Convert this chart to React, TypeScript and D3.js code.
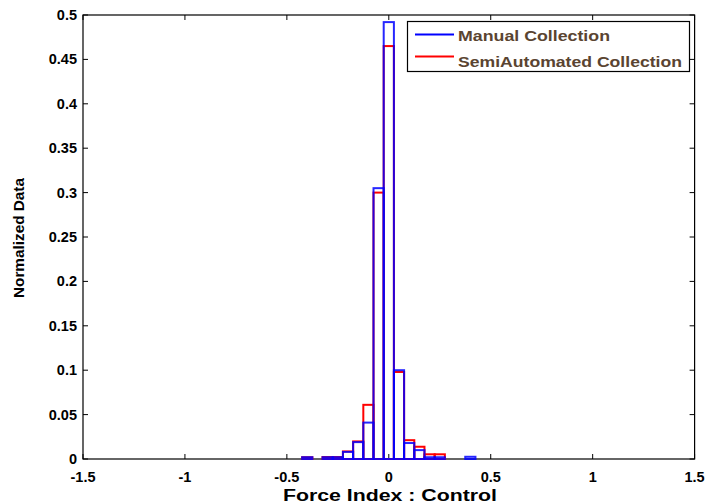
import React from "react";
import * as d3 from "d3";

const binCenters = [
  -1, -0.95, -0.9, -0.85, -0.8, -0.75, -0.7, -0.65, -0.6, -0.55, -0.5, -0.45, -0.4, -0.35, -0.3, -0.25, -0.2, -0.15, -0.1, -0.05,
  0, 0.05, 0.1, 0.15, 0.2, 0.25, 0.3, 0.35, 0.4, 0.45, 0.5, 0.55, 0.6, 0.65, 0.7, 0.75, 0.8, 0.85, 0.9, 0.95, 1,
];
const manualValues = [
  0, 0, 0, 0, 0, 0, 0, 0, 0, 0, 0, 0, 0.002, 0, 0.002, 0.002, 0.008, 0.019, 0.041, 0.305,
  0.492, 0.1, 0.018, 0.01, 0.002, 0.002, 0, 0, 0.0025, 0, 0, 0, 0, 0, 0, 0, 0, 0, 0, 0, 0,
];
const semiValues = [
  0, 0, 0, 0, 0, 0, 0, 0, 0, 0, 0, 0, 0.002, 0, 0.0022, 0.0022, 0.0085, 0.0198, 0.061, 0.3,
  0.465, 0.098, 0.0212, 0.0138, 0.0053, 0.0053, 0, 0, 0, 0, 0, 0, 0, 0, 0, 0, 0, 0, 0, 0, 0,
];
const binWidth = 0.05;
const xTicks = [-1.5, -1, -0.5, 0, 0.5, 1, 1.5];
const yTicks = [0, 0.05, 0.1, 0.15, 0.2, 0.25, 0.3, 0.35, 0.4, 0.45, 0.5];
const seriesNames = ["Manual Collection", "SemiAutomated Collection"];

const W = 709;
const H = 504;
const left = 83;
const right = 694.6;
const top = 15;
const bottom = 459;
const font = "'Liberation Sans', Arial, Helvetica, sans-serif";

export default function App() {
  const x = d3.scaleLinear().domain([-1.5, 1.5]).range([left, right]);
  const y = d3.scaleLinear().domain([0, 0.5]).range([bottom, top]);
  const fmt = (v: number) => String(+v.toFixed(2));

  const bars = (vals: number[], color: string, opacity: number) =>
    binCenters.map((c, i) => {
      const x0 = x(c - binWidth / 2);
      const x1 = x(c + binWidth / 2);
      const yt = y(vals[i]);
      return (
        <rect
          key={i}
          x={x0}
          y={yt}
          width={x1 - x0}
          height={bottom - yt}
          fill="none"
          stroke={color}
          strokeWidth={2}
          strokeOpacity={opacity}
        />
      );
    });

  return (
    <svg width={W} height={H} style={{ position: "absolute", left: 0, top: 0, background: "#fff" }}>
      <rect x={0} y={0} width={W} height={H} fill="#fff" />
      {/* axes box */}
      <rect x={left} y={top} width={right - left} height={bottom - top} fill="none" stroke="#000" strokeWidth={1.2} />
      {xTicks.map((t) => (
        <g key={"x" + t}>
          <line x1={x(t)} x2={x(t)} y1={bottom} y2={bottom - 5} stroke="#000" />
          <line x1={x(t)} x2={x(t)} y1={top} y2={top + 5} stroke="#000" />
          <text x={x(t)} y={482} textAnchor="middle" fontFamily={font} fontWeight="bold" fontSize={14.5}>
            {fmt(t)}
          </text>
        </g>
      ))}
      {yTicks.map((t) => (
        <g key={"y" + t}>
          <line x1={left} x2={left + 5} y1={y(t)} y2={y(t)} stroke="#000" />
          <line x1={right} x2={right - 5} y1={y(t)} y2={y(t)} stroke="#000" />
          <text x={77} y={y(t) + 5} textAnchor="end" fontFamily={font} fontWeight="bold" fontSize={14.5}>
            {fmt(t)}
          </text>
        </g>
      ))}
      {/* histograms */}
      <g>{bars(semiValues, "#ff0000", 1)}</g>
      <g>{bars(manualValues, "#0000ff", 0.85)}</g>
      {/* axis labels */}
      <text x={390} y={501} textAnchor="middle" fontFamily={font} fontWeight="bold" fontSize={16} textLength={214} lengthAdjust="spacingAndGlyphs">
        Force Index : Control
      </text>
      <text
        transform={`translate(24, 238) rotate(-90)`}
        textAnchor="middle"
        fontFamily={font}
        fontWeight="bold"
        fontSize={15}
        textLength={120}
        lengthAdjust="spacingAndGlyphs"
      >
        Normalized Data
      </text>
      {/* legend */}
      <g>
        <rect x={407.5} y={21.5} width={282} height={50} fill="#fff" stroke="#000" strokeWidth={1.2} />
        <line x1={415} x2={454} y1={34.5} y2={34.5} stroke="#0000ff" strokeWidth={2} />
        <line x1={415} x2={454} y1={56.5} y2={56.5} stroke="#ff0000" strokeWidth={2} />
        <text x={458} y={41} fontFamily={font} fontWeight="bold" fontSize={15.5} fill="#5a4431" textLength={152} lengthAdjust="spacingAndGlyphs">
          {seriesNames[0]}
        </text>
        <text x={458} y={66.5} fontFamily={font} fontWeight="bold" fontSize={15.5} fill="#5a4431" textLength={224} lengthAdjust="spacingAndGlyphs">
          {seriesNames[1]}
        </text>
      </g>
    </svg>
  );
}
